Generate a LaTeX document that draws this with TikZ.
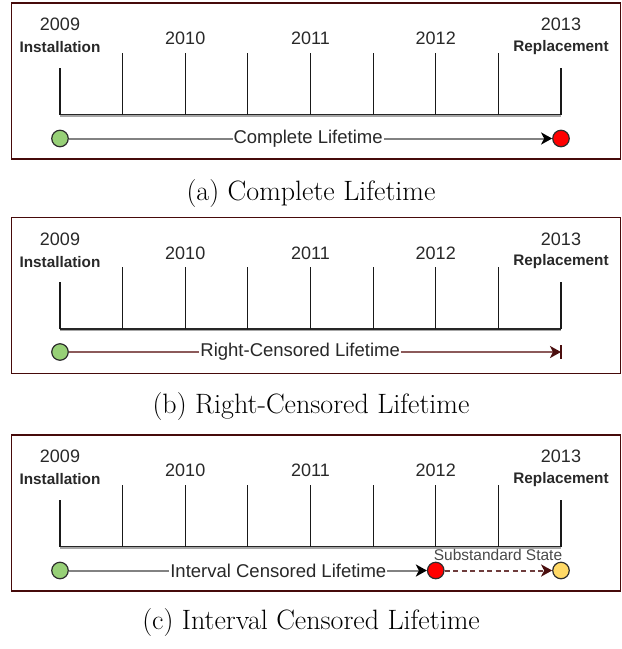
\documentclass[tikz,border=0pt]{standalone}
\usepackage{fontspec}
\newfontfamily\arialf{Liberation Sans}
\usetikzlibrary{arrows.meta}
\definecolor{boxc}{RGB}{70,10,10}
\definecolor{txtc}{RGB}{40,40,40}
\definecolor{greenc}{RGB}{151,208,119}
\definecolor{redc}{RGB}{255,0,0}
\definecolor{yellowc}{RGB}{255,217,102}
\definecolor{circd}{RGB}{45,45,45}
\definecolor{lifegray}{RGB}{130,130,130}
\definecolor{lifebrown}{RGB}{140,90,90}
\definecolor{darkmaroon}{RGB}{75,15,15}
\definecolor{dashc}{RGB}{110,60,60}
\newcommand\drawaxis[2]{%
  \node[panel] (box#2) at (316,#1+78.5) {};
  \foreach \i in {0,...,8} {
    \coordinate (t#2\i) at (60+62.625*\i,#1+112);
  }
  \draw[axisshadow] ([yshift=-1.2pt]t#20) -- ([yshift=-1.2pt]t#28);
  \draw[axisline] (t#20) -- (t#28);
  \draw[tickline] (t#20) -- ++(0,-47);
  \draw[tickline] (t#28) -- ++(0,-47);
  \foreach \i in {1,...,7} {
    \draw[tickline] (t#2\i) -- ++(0,-62);
  }
  \node[yearlbl] (ya#2) at (60,#1+22) {2009};
  \node[evtlbl] (ia#2) at (60,#1+45) {Installation};
  \node[yearlbl] (yb#2) at (185.25,#1+36) {2010};
  \node[yearlbl] (yc#2) at (310.5,#1+36) {2011};
  \node[yearlbl] (yd#2) at (435.75,#1+36) {2012};
  \node[yearlbl] (ye#2) at (561,#1+22) {2013};
  \node[evtlbl] (ie#2) at (561,#1+45) {Replacement};
}
\begin{document}
\begin{tikzpicture}[x=1pt,y=-1pt,
  panel/.style={draw=boxc, line width=1.5pt, minimum width=609pt, minimum height=156pt, inner sep=0pt},
  axisline/.style={draw=black!85, line width=1.2pt},
  axisshadow/.style={draw=black!35, line width=2.4pt},
  tickline/.style={draw=black!90, line width=1.2pt},
  yearlbl/.style={font=\arialf\fontsize{18}{20}\selectfont, text=txtc, inner sep=0pt},
  evtlbl/.style={font=\arialf\bfseries\fontsize{15.3}{17}\selectfont, text=txtc, inner sep=0pt},
  circ/.style={circle, draw=circd, line width=1.2pt, minimum size=16.5pt, inner sep=0pt},
  lifelbl/.style={font=\arialf\fontsize{18.5}{20}\selectfont, text=txtc, fill=white, inner sep=1pt},
  sublbl/.style={font=\arialf\fontsize{15.5}{17}\selectfont, text=txtc!85, inner sep=0pt},
  life/.style={draw=lifegray, line width=2pt, -{Stealth[length=11pt,width=12pt,inset=3pt,black]}},
  lifeb/.style={draw=lifebrown, line width=2pt, -{Stealth[length=11pt,width=12pt,inset=3pt,darkmaroon]}},
  dashl/.style={draw=dashc, line width=2pt, dash pattern=on 5pt off 3.5pt, -{Stealth[length=11pt,width=12pt,inset=3pt,darkmaroon]}},
  barline/.style={draw=darkmaroon, line width=1.6pt},
  capstyle/.style={font=\fontsize{28}{32}\selectfont, inner sep=0pt}
]
\useasboundingbox (0,0) rectangle (622,649);
% ---------- (a)
\drawaxis{2.5}{a}
\node[circ, fill=greenc] (ga) at (60,138.5) {};
\node[circ, fill=redc] (ra) at (561,138.5) {};
\draw[life] (ga) -- node[pos=0.495, lifelbl] (la) {Complete Lifetime} (ra);
\node[capstyle] (capa) at (311,194) {(a) Complete Lifetime};
% ---------- (b)
\drawaxis{217}{b}
\node[circ, fill=greenc] (gb) at (60,352) {};
\coordinate (eb) at (561,352);
\draw[lifeb] (gb) -- node[pos=0.47, lifelbl] (lb) {Right-Censored Lifetime} (eb);
\draw[barline] ([yshift=7pt]eb) -- ([yshift=-7pt]eb);
\node[capstyle] (capb) at (311,407) {(b) Right-Censored Lifetime};
% ---------- (c)
\drawaxis{434.5}{c}
\node[circ, fill=greenc] (gc) at (60,570.5) {};
\node[circ, fill=redc] (rc) at (435.75,570.5) {};
\node[circ, fill=yellowc] (yc) at (561,570.5) {};
\draw[life] (gc) -- node[pos=0.585, lifelbl] (lc) {Interval Censored Lifetime} (rc);
\draw[dashl] (rc) -- (yc);
\node[sublbl] (subc) at (498,555) {Substandard State};
\node[capstyle] (capc) at (311,623) {(c) Interval Censored Lifetime};
\end{tikzpicture}
\end{document}
